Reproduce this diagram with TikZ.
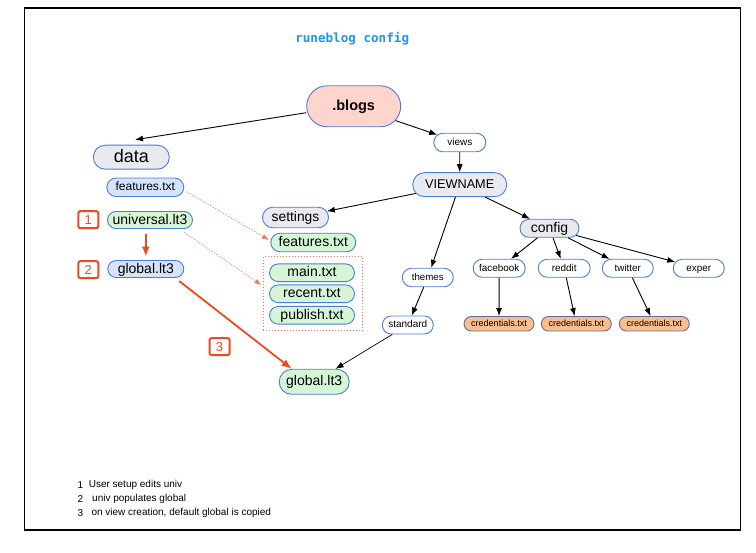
\documentclass[tikz,border=0pt]{standalone}
\usepackage{fontspec}
\setmainfont{Liberation Sans}
\newfontfamily\titlemono{DejaVu Sans Mono}
\usetikzlibrary{arrows.meta,shapes.misc}
\definecolor{bord}{RGB}{75,125,215}
\definecolor{credbord}{RGB}{95,110,160}
\definecolor{pinkc}{RGB}{255,212,204}
\definecolor{grayc}{RGB}{233,234,240}
\definecolor{bluec}{RGB}{212,228,250}
\definecolor{greenc}{RGB}{214,245,214}
\definecolor{orangec}{RGB}{250,190,140}
\definecolor{redc}{RGB}{235,75,35}
\definecolor{dotred}{RGB}{240,120,95}
\definecolor{titleblue}{RGB}{30,150,235}
\tikzset{
  pill/.style={rounded rectangle, draw=bord, line width=0.9pt, inner sep=0pt, text=black},
  sz/.style 2 args={minimum width=#1pt, minimum height=#2pt},
  tdim/.code={\pgfmathsetmacro\myfh{0.72*#1}\pgfmathsetmacro\myfd{0.12*#1}%
    \edef\mytmp{\noexpand\tikzset{text height=\myfh pt, text depth=\myfd pt}}\mytmp},
  fnt/.style={font=\fontsize{#1}{#1}\selectfont, tdim=#1},
  fntb/.style={font=\bfseries\fontsize{#1}{#1}\selectfont, tdim=#1},
  arr/.style={line width=0.9pt, -{Latex[length=8pt,width=6pt]}},
  redarr/.style={draw=redc, line width=1.8pt, -{Latex[length=10pt,width=8pt]}, color=redc},
  dotarr/.style={draw=dotred, line width=0.6pt, dash pattern=on 1.5pt off 1.5pt, -{Latex[length=7pt,width=5pt]}, color=dotred},
  numbox/.style={draw=redc, line width=2pt, rounded corners=2pt, fill=white, text=redc, inner sep=0pt, minimum width=20pt, minimum height=17pt, text height=9.4pt, text depth=0pt, font=\fontsize{13}{13}\selectfont},
  legend/.style={anchor=west, inner sep=0pt, font=\fontsize{10}{10}\selectfont}
}
\begin{document}
\begin{tikzpicture}[x=1pt,y=-1pt]
\useasboundingbox (0,0) rectangle (756,553);
\draw[line width=1.6pt] (24.3,8.3) rectangle (740.3,530.3);

\node[inner sep=0pt, text=titleblue, font=\titlemono\bfseries\fontsize{12.6}{13}\selectfont] (title) at (352.2,38.3) {runeblog config};

% nodes
\node[pill, fill=pinkc, sz={94}{41}, fntb=14.5] (blogs) at (353.7,106.3) {.blogs};
\node[pill, fill=grayc, sz={76}{24}, fnt=18] (data) at (131.3,157.2) {data};
\node[pill, fill=bluec, sz={77}{18.5}, fnt=12] (featd) at (145.3,187.3) {features.txt};
\node[pill, fill=greenc, sz={85}{17}, fnt=14] (univ) at (150,220) {universal.lt3};
\node[pill, fill=bluec, sz={76}{17}, fnt=14] (globl) at (145.8,269) {global.lt3};

\node[numbox] (lab1) at (88.3,219.7) {1};
\node[numbox] (lab2) at (88.3,269.7) {2};
\node[numbox] (lab3) at (219.6,346.6) {3};

\node[pill, fill=white, sz={52}{18.5}, fnt=10] (views) at (459.8,142.5) {views};
\node[pill, fill=grayc, sz={94}{24}, fnt=12.7] (viewname) at (459.7,184.7) {VIEWNAME};
\node[pill, fill=grayc, sz={66}{20.5}, fnt=13.8] (settings) at (295.5,217.5) {settings};
\node[pill, fill=greenc, sz={85}{18.5}, fnt=14] (feats) at (313.3,242.5) {features.txt};

\node[draw=dotred, line width=0.6pt, dash pattern=on 1pt off 2pt, inner sep=0pt, minimum width=99.4pt, minimum height=74pt] (grp) at (313,293.7) {};
\node[pill, fill=greenc, sz={85}{17.7}, fnt=14] (main) at (312,272.8) {main.txt};
\node[pill, fill=greenc, sz={85}{17.7}, fnt=14] (recent) at (312,293.8) {recent.txt};
\node[pill, fill=greenc, sz={85}{17.7}, fnt=14] (publish) at (312,315.3) {publish.txt};

\node[pill, fill=grayc, sz={59}{18}, fnt=14] (config) at (549.5,228.3) {config};
\node[pill, fill=white, sz={51}{18.5}, fnt=9.7] (themes) at (427.8,277.5) {themes};
\node[pill, fill=white, sz={51}{18}, fnt=10] (standard) at (407.8,325) {standard};
\node[pill, fill=white, sz={52}{18}, fnt=9.9] (facebook) at (499.2,268.3) {facebook};
\node[pill, fill=white, sz={52}{18}, fnt=9.9] (reddit) at (564.2,268.3) {reddit};
\node[pill, fill=white, sz={51}{18}, fnt=9.9] (twitter) at (627.8,268.3) {twitter};
\node[pill, fill=white, sz={51}{18}, fnt=9.9] (exper) at (698.8,268.3) {exper};
\node[pill, draw=credbord, fill=orangec, sz={70}{14.5}, fnt=9] (cred1) at (499,323.8) {credentials.txt};
\node[pill, draw=credbord, fill=orangec, sz={70}{14.5}, fnt=9] (cred2) at (576.3,323.8) {credentials.txt};
\node[pill, draw=credbord, fill=orangec, sz={70}{14.5}, fnt=9] (cred3) at (654.3,323.8) {credentials.txt};
\node[pill, fill=greenc, sz={70}{25}, fnt=14] (globb) at (314.2,381.8) {global.lt3};

% legend
\node[legend] (n1) at (77.5,485) {1};
\node[legend] (t1) at (88.6,485) {User setup edits univ};
\node[legend] (n2) at (77.5,499) {2};
\node[legend] (t2) at (92,499) {univ populates global};
\node[legend] (n3) at (77.5,513.3) {3};
\node[legend] (t3) at (91.3,513.3) {on view creation, default global is copied};

% black connectors
\draw[arr] ([yshift=-6.4pt]blogs.west) -- ([xshift=3.7pt,yshift=5pt]data.north);
\draw[arr] (blogs) -- (views);
\draw[arr] (views) -- (viewname);
\draw[arr] (viewname) -- (settings);
\draw[arr] (viewname) -- (themes);
\draw[arr] (viewname) -- (config);
\draw[arr] (config) -- (facebook);
\draw[arr] (config) -- (reddit);
\draw[arr] (config) -- (twitter);
\draw[arr] (config) -- (exper);
\draw[arr] (facebook) -- (cred1);
\draw[arr] (reddit) -- (cred2);
\draw[arr] (twitter) -- (cred3);
\draw[arr] (themes) -- (standard);
\draw[arr, line width=0.7pt] (standard) -- (globb);

% red connectors
\draw[redarr, shorten <=5.5pt, shorten >=3.5pt] (univ.south -| globl.north) -- (globl.north);
\draw[redarr, shorten <=5pt] (globl.south east) -- (globb.north west);
\draw[dotarr] ([xshift=2.4pt,yshift=-4.4pt]featd.east) -- ([xshift=-1.4pt,yshift=2.5pt]feats.west);
\draw[dotarr] ([yshift=-3.4pt]univ.south east) -- ([xshift=-1.6pt,yshift=8.7pt]grp.west);
\end{tikzpicture}
\end{document}
